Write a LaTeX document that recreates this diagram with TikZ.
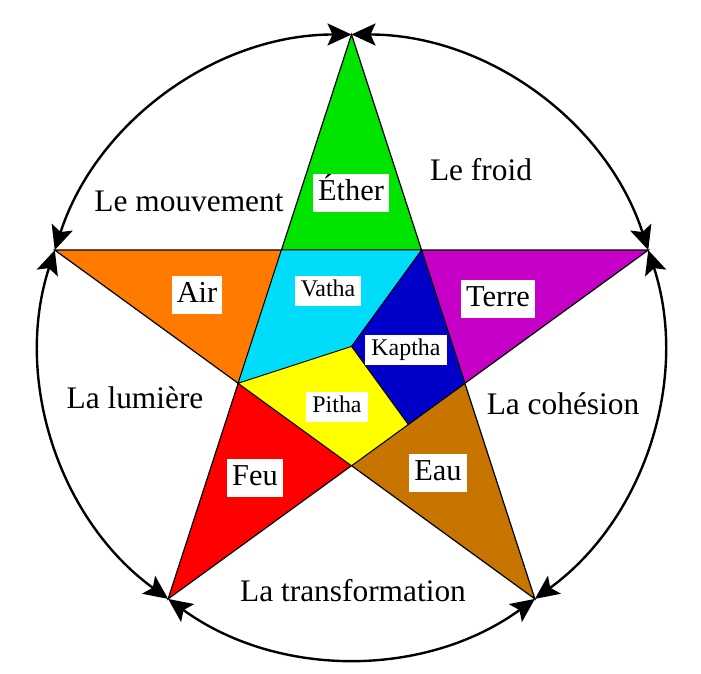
\documentclass[tikz,border=0pt]{standalone}
\usepackage{fontspec}
\setmainfont{Liberation Serif}
\usetikzlibrary{arrows.meta,calc}
\definecolor{etherc}{RGB}{0,228,0}
\definecolor{airc}{RGB}{255,122,0}
\definecolor{terrec}{RGB}{198,0,198}
\definecolor{feuc}{RGB}{255,0,0}
\definecolor{eauc}{RGB}{200,116,0}
\definecolor{vathac}{RGB}{0,220,250}
\definecolor{kapthac}{RGB}{0,0,200}
\definecolor{pithac}{RGB}{255,255,0}
\def\bigtxt{\fontsize{31.5}{36}\selectfont}
\tikzset{
	elem/.style={fill=white, inner xsep=5bp, inner ysep=2bp, text height=25bp, text depth=9bp, font=\fontsize{30.5}{36}\selectfont},
	dosha/.style={fill=white, inner xsep=6bp, inner ysep=2bp, text height=19bp, text depth=7bp, font=\fontsize{24}{28}\selectfont},
	quality/.style={inner sep=0pt, font=\bigtxt},
	ring/.style={line width=2.4bp, {Stealth[length=24bp,width=22bp,inset=5bp]}-{Stealth[length=24bp,width=22bp,inset=5bp]}}
}

\begin{document}
\begin{tikzpicture}[x=1bp,y=1bp]
			%%%%% START %%%%%
			
			\fill[white] (0, 0) rectangle (701, 674);
			\useasboundingbox (0, 0) rectangle (701, 674);
			
			\coordinate (O) at (351.5, 327.5);
			\path (O) ++(90:312) coordinate (T);
			\path (O) ++(162:312) coordinate (L);
			\path (O) ++(234:312) coordinate (BL);
			\path (O) ++(306:312) coordinate (BR);
			\path (O) ++(18:312) coordinate (R);
			
			\coordinate (IA) at (intersection of T--BL and L--R);
			\coordinate (IB) at (intersection of T--BR and L--R);
			\coordinate (IC) at (intersection of T--BR and R--BL);
			\coordinate (ID) at (intersection of L--BR and R--BL);
			\coordinate (IE) at (intersection of L--BR and T--BL);
			\coordinate (M) at ($(IC)!0.5!(ID)$);
			
			\draw[line width=1.2bp, fill=etherc] (T) -- (IA) -- (IB) -- cycle;
			\draw[line width=1.2bp, fill=airc] (L) -- (IA) -- (IE) -- cycle;
			\draw[line width=1.2bp, fill=terrec] (R) -- (IB) -- (IC) -- cycle;
			\draw[line width=1.2bp, fill=feuc] (BL) -- (IE) -- (ID) -- cycle;
			\draw[line width=1.2bp, fill=eauc] (BR) -- (IC) -- (ID) -- cycle;
			
			\draw[line width=0.8bp, fill=vathac] (IA) -- (IB) -- (O) -- (IE) -- cycle;
			\draw[line width=0.8bp, fill=kapthac] (IB) -- (IC) -- (M) -- (O) -- cycle;
			\draw[line width=0.8bp, fill=pithac] (O) -- (M) -- (ID) -- (IE) -- cycle;
			
			\draw[ring] (T) arc[start angle=90, end angle=162, radius=312bp];
			\draw[ring] (L) arc[start angle=162, end angle=234, radius=312bp];
			\draw[ring] (BL) arc[start angle=234, end angle=306, radius=312bp];
			\draw[ring] (BR) arc[start angle=306, end angle=378, radius=312bp];
			\draw[ring] (R) arc[start angle=18, end angle=90, radius=312bp];
			
			\node[elem] (ether) at (351, 481) {Éther};
			\node[elem] (air) at (197, 379) {Air};
			\node[elem] (terre) at (498, 375) {Terre};
			\node[elem] (feu) at (255, 196) {Feu};
			\node[elem] (eau) at (438, 201) {Eau};
			
			\node[dosha] (vatha) at (328, 383) {Vatha};
			\node[dosha] (kaptha) at (406, 324) {Kaptha};
			\node[dosha] (pitha) at (337, 267) {Pitha};
			
			\node[quality] (froid) at (481, 504) {Le froid};
			\node[quality] (mouvement) at (189, 473) {Le mouvement};
			\node[quality] (lumiere) at (135, 276) {La lumière};
			\node[quality] (cohesion) at (563, 270) {La cohésion};
			\node[quality] (transfo) at (353, 83) {La transformation};
			
			%%%%% END %%%%%
		\end{tikzpicture}
\end{document}
